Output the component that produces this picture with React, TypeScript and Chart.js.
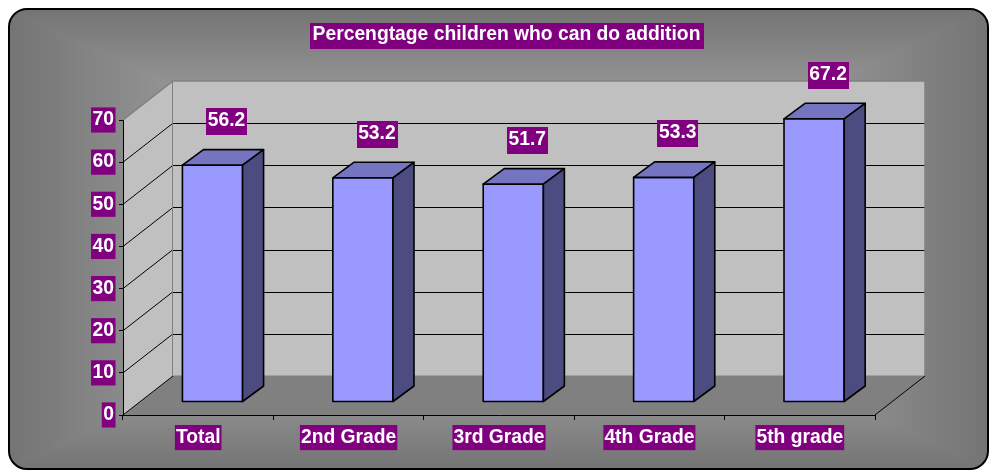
import React, { useEffect, useRef } from "react";
import { Chart, registerables } from "chart.js";

Chart.register(...registerables);

// ---------- data ----------
const TITLE = "Percengtage children who can do addition";
const CATEGORIES = ["Total", "2nd Grade", "3rd Grade", "4th Grade", "5th grade"];
const VALUES = [56.2, 53.2, 51.7, 53.3, 67.2];
const Y_MIN = 0;
const Y_MAX = 70;
const Y_STEP = 10;

// ---------- style ----------
const FONT = "'Liberation Sans', Arial, Helvetica, sans-serif";
const FONT_SIZE = 19.3;
const PURPLE = "#800080";
const WALL = "#c0c0c0";
const FLOOR = "#808080";
const EDGE = "#808080";
const BAR_FRONT = "#9999ff";
const BAR_TOP = "#7474c0";
const BAR_SIDE = "#4c4c80";

// 3D projection offsets
const DEPTH_X = 50;
const DEPTH_Y = -39;
const BAR_OFF_X = 14.3;
const BAR_OFF_Y = -13;
const BAR_D_X = 21;
const BAR_D_Y = -15.5;
const LABEL_DX = 14;
const LABEL_DY = -56.4;

function roundRect(ctx: CanvasRenderingContext2D, x: number, y: number, w: number, h: number, r: number) {
  ctx.beginPath();
  ctx.moveTo(x + r, y);
  ctx.lineTo(x + w - r, y);
  ctx.arcTo(x + w, y, x + w, y + r, r);
  ctx.lineTo(x + w, y + h - r);
  ctx.arcTo(x + w, y + h, x + w - r, y + h, r);
  ctx.lineTo(x + r, y + h);
  ctx.arcTo(x, y + h, x, y + h - r, r);
  ctx.lineTo(x, y + r);
  ctx.arcTo(x, y, x + r, y, r);
  ctx.closePath();
}

function rectGradient(
  ctx: CanvasRenderingContext2D,
  x0: number, y0: number, x1: number, y1: number,
  cx: number, cy: number,
  stops: [number, string][]
) {
  const regions: { a: [number, number]; b: [number, number]; end: [number, number] }[] = [
    { a: [x0, y0], b: [x1, y0], end: [cx, y0] },
    { a: [x1, y0], b: [x1, y1], end: [x1, cy] },
    { a: [x1, y1], b: [x0, y1], end: [cx, y1] },
    { a: [x0, y1], b: [x0, y0], end: [x0, cy] },
  ];
  for (const r of regions) {
    const g = ctx.createLinearGradient(cx, cy, r.end[0], r.end[1]);
    for (const [o, c] of stops) g.addColorStop(o, c);
    ctx.beginPath();
    ctx.moveTo(cx, cy);
    ctx.lineTo(r.a[0], r.a[1]);
    ctx.lineTo(r.b[0], r.b[1]);
    ctx.closePath();
    ctx.fillStyle = g;
    ctx.strokeStyle = g;
    ctx.lineWidth = 1;
    ctx.fill();
    ctx.stroke();
  }
}

function labelBox(ctx: CanvasRenderingContext2D, text: string, cx: number, cy: number, padX: number, h: number, textDy: number) {
  ctx.font = `bold ${FONT_SIZE}px ${FONT}`;
  const w = ctx.measureText(text).width + padX * 2;
  ctx.fillStyle = PURPLE;
  ctx.fillRect(Math.round(cx - w / 2), Math.round(cy - h / 2), Math.round(w), h);
  ctx.fillStyle = "#ffffff";
  ctx.textAlign = "center";
  ctx.textBaseline = "middle";
  ctx.fillText(text, cx, cy + textDy);
}

const excel3d = {
  id: "excel3d",
  beforeDraw(chart: any) {
    const ctx: CanvasRenderingContext2D = chart.ctx;
    const { left: L, right: R } = chart.chartArea;
    const ys = chart.scales.y;
    const yTop = ys.getPixelForValue(Y_MAX);
    const yBot = ys.getPixelForValue(Y_MIN);
    ctx.save();

    // outer rounded panel with centre gradient
    const bx = 9, by = 9, bw = 979, bh = 460;
    roundRect(ctx, bx, by, bw, bh, 18);
    ctx.save();
    ctx.clip();
    rectGradient(ctx, bx, by, bx + bw, by + bh, 498, 238, [
      [0, "#cfcfcf"],
      [0.6, "#9a9a9a"],
      [1, "#747474"],
    ]);
    ctx.restore();
    roundRect(ctx, bx, by, bw, bh, 18);
    ctx.lineWidth = 2;
    ctx.strokeStyle = "#000";
    ctx.stroke();

    // title
    ctx.font = `bold ${FONT_SIZE}px ${FONT}`;
    const tw = ctx.measureText(TITLE).width + 6;
    ctx.fillStyle = PURPLE;
    ctx.fillRect(Math.round(506.5 - tw / 2), 23, Math.round(tw), 26);
    ctx.fillStyle = "#fff";
    ctx.textAlign = "center";
    ctx.textBaseline = "middle";
    ctx.fillText(TITLE, 506.5, 35);

    // floor
    ctx.beginPath();
    ctx.moveTo(L, yBot);
    ctx.lineTo(R, yBot);
    ctx.lineTo(R + DEPTH_X, yBot + DEPTH_Y);
    ctx.lineTo(L + DEPTH_X, yBot + DEPTH_Y);
    ctx.closePath();
    ctx.fillStyle = FLOOR;
    ctx.fill();

    // side wall
    ctx.beginPath();
    ctx.moveTo(L, yTop);
    ctx.lineTo(L + DEPTH_X, yTop + DEPTH_Y);
    ctx.lineTo(L + DEPTH_X, yBot + DEPTH_Y);
    ctx.lineTo(L, yBot);
    ctx.closePath();
    ctx.fillStyle = WALL;
    ctx.fill();

    // back wall
    ctx.fillStyle = WALL;
    ctx.fillRect(L + DEPTH_X, yTop + DEPTH_Y, R - L, yBot - yTop);

    // gridlines
    ctx.lineWidth = 1;
    const ticks = ys.ticks.map((t: any) => t.value);
    for (const v of ticks) {
      const y = ys.getPixelForValue(v);
      const yb = Math.round(y + DEPTH_Y) + 0.5;
      if (v === Y_MAX) continue;
      ctx.strokeStyle = "#000";
      if (v !== Y_MIN) {
        ctx.beginPath();
        ctx.moveTo(L + DEPTH_X, yb);
        ctx.lineTo(R + DEPTH_X, yb);
        ctx.stroke();
      }
      ctx.beginPath();
      ctx.moveTo(L, y);
      ctx.lineTo(L + DEPTH_X, y + DEPTH_Y);
      ctx.stroke();
    }

    // wall edges
    ctx.strokeStyle = EDGE;
    ctx.lineWidth = 1.5;
    ctx.beginPath();
    ctx.moveTo(L, yTop);
    ctx.lineTo(L + DEPTH_X, yTop + DEPTH_Y);
    ctx.lineTo(R + DEPTH_X, yTop + DEPTH_Y);
    ctx.lineTo(R + DEPTH_X, yBot + DEPTH_Y);
    ctx.stroke();
    ctx.lineWidth = 1;
    ctx.beginPath();
    ctx.moveTo(Math.round(L + DEPTH_X) - 0.5, yTop + DEPTH_Y);
    ctx.lineTo(Math.round(L + DEPTH_X) - 0.5, yBot + DEPTH_Y);
    ctx.stroke();
    ctx.beginPath();
    ctx.moveTo(L + DEPTH_X, yBot + DEPTH_Y);
    ctx.lineTo(R + DEPTH_X, yBot + DEPTH_Y);
    ctx.stroke();

    // floor right edge
    ctx.strokeStyle = "#000";
    ctx.lineWidth = 1;
    ctx.beginPath();
    ctx.moveTo(R, yBot);
    ctx.lineTo(R + DEPTH_X, yBot + DEPTH_Y);
    ctx.stroke();

    ctx.restore();
  },
  afterDatasetsDraw(chart: any) {
    const ctx: CanvasRenderingContext2D = chart.ctx;
    const meta = chart.getDatasetMeta(0);
    ctx.save();
    ctx.lineJoin = "round";
    meta.data.forEach((el: any, i: number) => {
      const { x, y, base, width } = el.getProps(["x", "y", "base", "width"], true);
      const l = x - width / 2 + BAR_OFF_X;
      const r = x + width / 2 + BAR_OFF_X;
      const t = y + BAR_OFF_Y;
      const b = base + BAR_OFF_Y;
      ctx.lineWidth = 1.6;
      ctx.strokeStyle = "#000";
      // front
      ctx.beginPath();
      ctx.rect(l, t, r - l, b - t);
      ctx.fillStyle = BAR_FRONT;
      ctx.fill();
      ctx.stroke();
      // top
      ctx.beginPath();
      ctx.moveTo(l, t);
      ctx.lineTo(r, t);
      ctx.lineTo(r + BAR_D_X, t + BAR_D_Y);
      ctx.lineTo(l + BAR_D_X, t + BAR_D_Y);
      ctx.closePath();
      ctx.fillStyle = BAR_TOP;
      ctx.fill();
      ctx.stroke();
      // side
      ctx.beginPath();
      ctx.moveTo(r, t);
      ctx.lineTo(r + BAR_D_X, t + BAR_D_Y);
      ctx.lineTo(r + BAR_D_X, b + BAR_D_Y);
      ctx.lineTo(r, b);
      ctx.closePath();
      ctx.fillStyle = BAR_SIDE;
      ctx.fill();
      ctx.stroke();

      // data label
      const v = VALUES[i];
      labelBox(ctx, v.toFixed(1), x + BAR_OFF_X + LABEL_DX, y + LABEL_DY, 1.5, 27, -1);
    });
    ctx.restore();
  },
};

export default function App() {
  const ref = useRef<HTMLCanvasElement>(null);
  useEffect(() => {
    const canvas = ref.current;
    if (!canvas) return;
    const tickFont = { family: FONT, size: FONT_SIZE, weight: "bold" as const };
    const chart = new Chart(canvas, {
      type: "bar",
      data: {
        labels: CATEGORIES,
        datasets: [
          {
            data: VALUES,
            backgroundColor: "rgba(0,0,0,0)",
            borderWidth: 0,
            barPercentage: 0.4,
            categoryPercentage: 1,
          },
        ],
      },
      options: {
        responsive: false,
        animation: false,
        events: [],
        layout: { padding: { top: 120, left: 0, right: 118, bottom: 0 } },
        plugins: {
          legend: { display: false },
          title: { display: false },
          tooltip: { enabled: false },
        },
        scales: {
          x: {
            type: "category",
            offset: true,
            grid: { offset: true, drawOnChartArea: false, drawTicks: true, tickLength: 5, color: "#000", lineWidth: 1 },
            border: { display: true, color: "#000", width: 1 },
            ticks: {
              color: "#fff",
              font: tickFont,
              padding: 6,
              maxRotation: 0,
              autoSkip: false,
              showLabelBackdrop: true,
              backdropColor: PURPLE,
              backdropPadding: { left: 1, right: 1, top: 1, bottom: 1 },
            },
            afterFit: (s: any) => {
              s.height = 57;
            },
          },
          y: {
            type: "linear",
            min: Y_MIN,
            max: Y_MAX,
            grid: { drawOnChartArea: false, drawTicks: true, tickLength: 4, color: "#000", lineWidth: 1 },
            border: { display: true, color: "#000", width: 1 },
            ticks: {
              stepSize: Y_STEP,
              color: "#fff",
              font: tickFont,
              padding: 5,
              showLabelBackdrop: true,
              backdropColor: PURPLE,
              backdropPadding: { left: 1.5, right: 1.5, top: 1, bottom: 1 },
            },
            afterFit: (s: any) => {
              s.width = 123;
            },
          },
        },
      } as any,
      plugins: [excel3d],
    });
    return () => chart.destroy();
  }, []);
  return (
    <div style={{ position: "fixed", left: 0, top: 0, width: 993, height: 472 }}>
      <canvas ref={ref} width={993} height={472} style={{ display: "block" }} />
    </div>
  );
}
